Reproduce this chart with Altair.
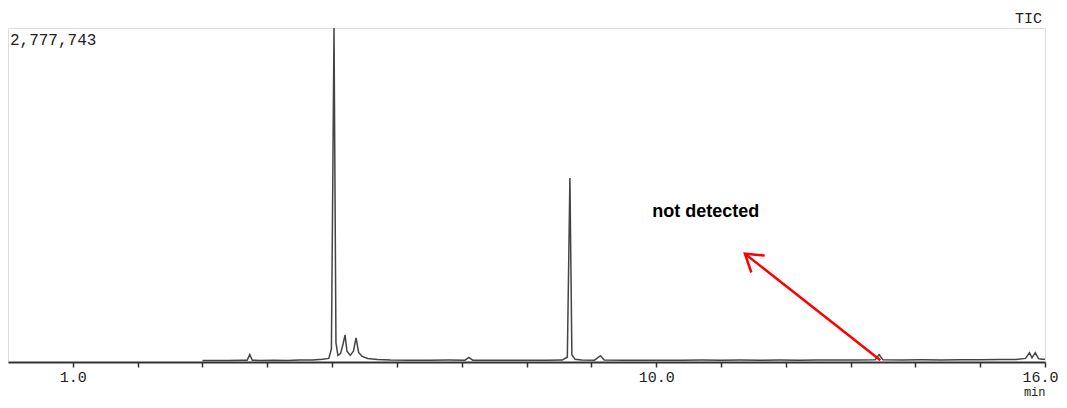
import altair as alt
import pandas as pd

# Chromatogram (TIC) trace: retention time (min) and intensity (counts)
times = [3.00, 3.20, 3.40, 3.60, 3.69, 3.73, 3.77, 3.90, 4.10, 4.30, 4.50, 4.70, 4.85, 4.95,
         4.99, 5.03, 5.06, 5.09, 5.13, 5.17, 5.20, 5.23, 5.28, 5.33, 5.37, 5.41, 5.46, 5.55, 5.70,
         5.90, 6.20, 6.50, 6.80, 7.05, 7.11, 7.17, 7.40, 7.70, 8.00, 8.30, 8.55, 8.63, 8.67, 8.70,
         8.75, 8.85, 9.05, 9.14, 9.20, 9.50, 9.80, 10.10, 10.40, 10.70, 11.00, 11.30, 11.60, 11.90,
         12.20, 12.50, 12.80, 13.10, 13.38, 13.44, 13.50, 13.80, 14.10, 14.40, 14.70, 15.00, 15.30,
         15.55, 15.70, 15.76, 15.80, 15.85, 15.90, 15.95, 16.00]
intensity = [12000, 13000, 12000, 14000, 14000, 62000, 14000, 13000, 15000, 13000, 16000, 17000, 22000, 30000,
             110000, 2777743, 160000, 55000, 70000, 150000, 225000, 90000, 55000, 90000, 200000, 80000, 48000, 30000, 21000,
             17000, 15000, 14000, 16000, 15000, 38000, 15000, 14000, 15000, 14000, 15000, 16000, 40000, 1530000, 60000,
             22000, 17000, 15000, 52000, 16000, 15000, 14000, 15000, 14000, 16000, 15000, 16000, 15000, 16000,
             15000, 17000, 16000, 17000, 18000, 62000, 18000, 17000, 18000, 17000, 19000, 18000, 20000,
             21000, 30000, 78000, 35000, 78000, 28000, 22000, 22000]

# X axis ticks and labels
tick_values = list(range(1, 17))
label_values = [1, 10, 16]

# Annotations
arrow_start = (13.46, 15000)
arrow_end = (11.37, 900000)
note_pos = (9.94, 1250000)
note_text = "not detected"
max_label = "2,777,743"
y_max = 2777743

df = pd.DataFrame({"t": times, "i": intensity})
xs = alt.Scale(domain=[0, 16], nice=False)
ys = alt.Scale(domain=[0, y_max], nice=False)

label_expr = "indexof([" + ",".join(str(v) for v in label_values) + "], datum.value) >= 0 ? format(datum.value, '.1f') : ''"

line = alt.Chart(df).mark_line(color="#444444", strokeWidth=1.5, clip=True).encode(
    x=alt.X("t:Q", scale=xs, axis=alt.Axis(
        values=tick_values, labelExpr=label_expr, title="min", titleAnchor="end",
        titleFont="Liberation Mono", titleFontSize=12, titleFontWeight="normal", titleColor="#222222",
        titlePadding=2, labelFont="Liberation Mono", labelFontSize=15, labelColor="#222222",
        labelPadding=2, tickSize=5, tickColor="#333333", tickWidth=1.5, domainColor="#333333",
        domainWidth=2, grid=False, labelOverlap=False, labelFlush=True, labelFlushOffset=13)),
    y=alt.Y("i:Q", scale=ys, axis=None),
)

arrow_df = pd.DataFrame({"x": [arrow_start[0]], "y": [arrow_start[1]],
                         "x2": [arrow_end[0]], "y2": [arrow_end[1]]})
shaft = alt.Chart(arrow_df).mark_rule(color="#ff0000", strokeWidth=2.5).encode(
    x=alt.X("x:Q", scale=xs), y=alt.Y("y:Q", scale=ys), x2="x2:Q", y2="y2:Q")

head_df = pd.DataFrame({"x": [arrow_end[0]], "y": [arrow_end[1]]})
head = alt.Chart(head_df).mark_point(
    shape="M -1 -0.65 L 0 0 L -1 0.65", filled=False, color="#ff0000", strokeWidth=2.5,
    size=1100, angle=218, opacity=1).encode(
    x=alt.X("x:Q", scale=xs), y=alt.Y("y:Q", scale=ys))

note_df = pd.DataFrame({"x": [note_pos[0]], "y": [note_pos[1]], "txt": [note_text]})
note = alt.Chart(note_df).mark_text(
    font="Liberation Sans", fontSize=18, fontWeight="bold", color="#000000",
    align="left", baseline="middle").encode(
    x=alt.X("x:Q", scale=xs), y=alt.Y("y:Q", scale=ys), text="txt:N")

max_df = pd.DataFrame({"x": [0.03], "y": [y_max], "txt": [max_label]})
max_txt = alt.Chart(max_df).mark_text(
    font="Liberation Mono", fontSize=16, color="#222222", align="left", baseline="top", dy=4).encode(
    x=alt.X("x:Q", scale=xs), y=alt.Y("y:Q", scale=ys), text="txt:N")

chart = alt.layer(line, shaft, head, note, max_txt).properties(
    width=1037, height=334,
    title=alt.TitleParams("TIC", anchor="end", frame="group", font="Liberation Mono", fontSize=15,
                          fontWeight="normal", color="#222222", offset=2, dx=-3),
    autosize=alt.AutoSizeParams(type="none"),
    padding={"left": 0, "top": 20, "right": 14, "bottom": 38},
).configure_view(stroke="#777777", strokeWidth=2).configure(background="white")

chart.save("out.html", embed_options={"renderer": "svg", "actions": False})
